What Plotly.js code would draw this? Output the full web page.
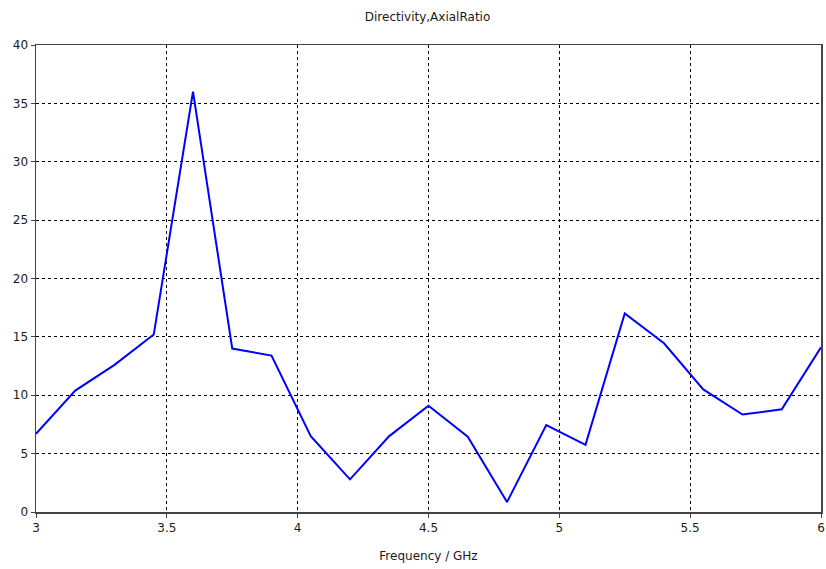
<!DOCTYPE html>
<html>
<head>
<meta charset="utf-8">
<script src="https://cdn.plot.ly/plotly-3.0.1.min.js"></script>
<style>
  html, body { margin: 0; padding: 0; background: #ffffff; }
  #chart { width: 826px; height: 569px; }
</style>
</head>
<body>
<div id="chart"></div>
<script>
// Frequency sweep (GHz) and the resulting axial ratio values
const frequencyGHz = [3.0, 3.15, 3.3, 3.45, 3.6, 3.75, 3.9, 4.05, 4.2, 4.35, 4.5,
                      4.65, 4.8, 4.95, 5.1, 5.25, 5.4, 5.55, 5.7, 5.85, 6.0];
const axialRatio = [6.7, 10.4, 12.6, 15.2, 36.0, 14.0, 13.4, 6.5, 2.8, 6.5, 9.1,
                    6.45, 0.85, 7.45, 5.75, 17.0, 14.45, 10.5, 8.35, 8.8, 14.1];

const xTicks = [3, 3.5, 4, 4.5, 5, 5.5, 6];
const xTickText = ['3', '3.5', '4', '4.5', '5', '5.5', '6'];
const yTicks = [0, 5, 10, 15, 20, 25, 30, 35, 40];

const font = { family: 'DejaVu Sans, Verdana, sans-serif', size: 12, color: '#1a1a1a' };

const trace = {
  x: frequencyGHz,
  y: axialRatio,
  type: 'scatter',
  mode: 'lines',
  line: { color: '#0000ff', width: 2 },
  hoverinfo: 'x+y'
};

const axisCommon = {
  showgrid: true,
  gridcolor: '#000000',
  gridwidth: 1,
  griddash: '3px,3px',
  showline: true,
  linecolor: '#444444',
  linewidth: 1.5,
  mirror: true,
  ticks: 'outside',
  ticklen: 4,
  tickcolor: '#444444',
  zeroline: false,
  tickfont: font
};

const layout = {
  width: 826,
  height: 569,
  margin: { l: 36, r: 5, t: 45, b: 57 },
  paper_bgcolor: '#ffffff',
  plot_bgcolor: '#ffffff',
  font: font,
  showlegend: false,
  title: {
    text: 'Directivity,AxialRatio',
    font: font,
    x: 0.5176, xanchor: 'center',
    y: 0.97, yanchor: 'middle'
  },
  xaxis: Object.assign({}, axisCommon, {
    range: [3, 6],
    tickmode: 'array',
    tickvals: xTicks,
    ticktext: xTickText,
    title: { text: 'Frequency / GHz', font: font, standoff: 17 }
  }),
  yaxis: Object.assign({}, axisCommon, {
    range: [0, 40],
    tickmode: 'array',
    tickvals: yTicks,
    ticktext: yTicks.map(String)
  })
};

Plotly.newPlot('chart', [trace], layout, { displayModeBar: false, staticPlot: true });
</script>
</body>
</html>
